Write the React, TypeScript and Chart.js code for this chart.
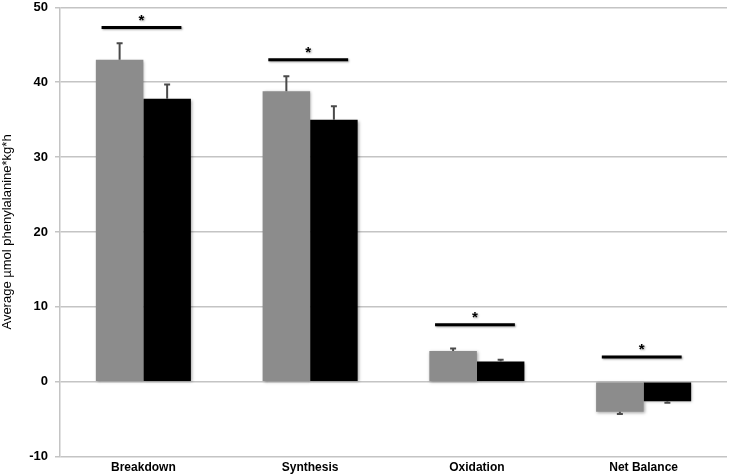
import React, { useEffect, useRef } from "react";
import { Chart, registerables } from "chart.js";

Chart.register(...registerables);

const categories = ["Breakdown", "Synthesis", "Oxidation", "Net Balance"];
const seriesA = [43.0, 38.8, 4.1, -4.0];
const seriesB = [37.8, 35.0, 2.7, -2.6];
const errorsA = [2.2, 2.0, 0.35, 0.3];
const errorsB = [1.9, 1.8, 0.25, 0.2];
const significant = [true, true, true, true];
const sigLevels = [47.3, 43.0, 7.6, 3.3];
const yTicks = [-10, 0, 10, 20, 30, 40, 50];
const yTitle = "Average µmol phenylalanine*kg*h";

const FONT = "'Liberation Sans', Arial, Helvetica, sans-serif";

const shadowPlugin = {
  id: "barShadow",
  beforeDatasetsDraw(chart: any) {
    const ctx = chart.ctx;
    ctx.save();
    ctx.shadowColor = "rgba(0,0,0,0.35)";
    ctx.shadowBlur = 3;
    ctx.shadowOffsetX = 1;
    ctx.shadowOffsetY = 1;
  },
  afterDatasetsDraw(chart: any) {
    chart.ctx.restore();
  },
};

const errorPlugin = {
  id: "errorBars",
  afterDatasetsDraw(chart: any) {
    const ctx = chart.ctx;
    const y = chart.scales.y;
    const errs = [errorsA, errorsB];
    ctx.save();
    ctx.strokeStyle = "#4a4a4a";
    ctx.lineWidth = 2;
    [0, 1].forEach((di) => {
      const meta = chart.getDatasetMeta(di);
      meta.data.forEach((bar: any, i: number) => {
        const v = chart.data.datasets[di].data[i] as number;
        const e = errs[di][i];
        const end = v >= 0 ? v + e : v - e;
        const x = bar.x;
        const y0 = y.getPixelForValue(v);
        const y1 = y.getPixelForValue(end);
        ctx.beginPath();
        ctx.moveTo(x, y0);
        ctx.lineTo(x, y1);
        ctx.moveTo(x - 3, y1);
        ctx.lineTo(x + 3, y1);
        ctx.stroke();
      });
    });
    const ma = chart.getDatasetMeta(0);
    const mb = chart.getDatasetMeta(1);
    ctx.shadowColor = "rgba(0,0,0,0.35)";
    ctx.shadowBlur = 2;
    ctx.shadowOffsetX = 1;
    ctx.shadowOffsetY = 1;
    categories.forEach((_, i) => {
      if (!significant[i]) return;
      const a = ma.data[i];
      const b = mb.data[i];
      const left = a.x - a.width * 0.38;
      const right = b.x + b.width * 0.3;
      const yy = y.getPixelForValue(sigLevels[i]);
      ctx.strokeStyle = "#000";
      ctx.lineWidth = 3;
      ctx.beginPath();
      ctx.moveTo(left, yy);
      ctx.lineTo(right, yy);
      ctx.stroke();
      ctx.fillStyle = "#000";
      ctx.font = `bold 15px ${FONT}`;
      ctx.textAlign = "center";
      ctx.textBaseline = "middle";
      ctx.fillText("*", (left + right) / 2, yy - 7);
    });
    ctx.restore();
  },
};

export default function App() {
  const ref = useRef<HTMLCanvasElement>(null);
  useEffect(() => {
    document.body.style.margin = "0";
    const chart = new Chart(ref.current as HTMLCanvasElement, {
      type: "bar",
      data: {
        labels: categories,
        datasets: [
          { label: "A", data: seriesA, backgroundColor: "#8c8c8c", borderWidth: 0 },
          { label: "B", data: seriesB, backgroundColor: "#000000", borderWidth: 0 },
        ],
      },
      options: {
        responsive: false,
        animation: false,
        layout: { padding: { top: 0, right: 4, bottom: -3, left: 0 } },
        plugins: { legend: { display: false }, tooltip: { enabled: false } },
        datasets: { bar: { categoryPercentage: 0.57, barPercentage: 1 } },
        scales: {
          x: {
            grid: { display: false, drawTicks: false, tickLength: 0 },
            border: { display: false },
            ticks: { color: "#000", font: { family: FONT, size: 12, weight: "bold" }, padding: 4 },
          },
          y: {
            min: -10,
            max: 50,
            afterBuildTicks: (s: any) => {
              s.ticks = yTicks.map((v) => ({ value: v }));
            },
            afterFit: (s: any) => {
              s.width = 60;
            },
            grid: { color: "#c4c4c4", lineWidth: 1.5, tickLength: 5 },
            border: { color: "#c4c4c4", width: 1.5 },
            ticks: {
              color: "#000",
              font: { family: FONT, size: 13, weight: "bold", lineHeight: 0.05 },
              padding: 7,
            },
            title: {
              display: true,
              text: yTitle,
              color: "#000",
              font: { family: FONT, size: 13 },
              padding: { top: 0, bottom: 0 },
            },
          },
        },
      },
      plugins: [shadowPlugin, errorPlugin],
    });
    return () => chart.destroy();
  }, []);
  return (
    <div style={{ width: 731, height: 476 }}>
      <canvas ref={ref} width={731} height={476} />
    </div>
  );
}
